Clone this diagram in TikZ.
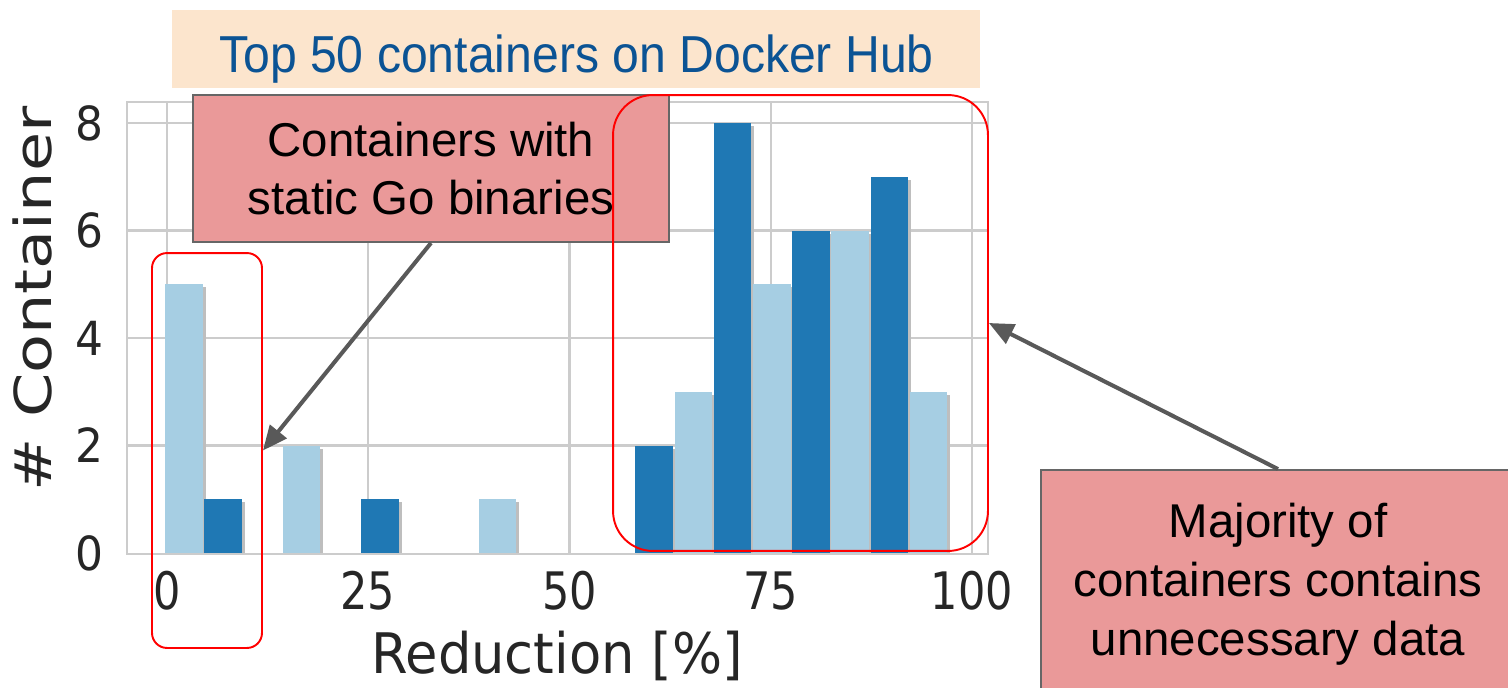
\documentclass[tikz,border=0pt]{standalone}
\usepackage{fontspec}
\setmainfont{Liberation Sans}
\newfontfamily\plotfont{DejaVu Sans}
\usepackage{graphicx}
\usetikzlibrary{arrows.meta,positioning}
\definecolor{lightbar}{HTML}{A6CEE3}
\definecolor{darkbar}{HTML}{1F78B4}
\definecolor{barshadow}{HTML}{BEBEBE}
\definecolor{gridgray}{HTML}{CCCCCC}
\definecolor{titlebg}{HTML}{FCE5CD}
\definecolor{titleblue}{HTML}{0B5394}
\definecolor{notefill}{HTML}{EA9999}
\definecolor{noteborder}{HTML}{666666}
\definecolor{arrowgray}{HTML}{595959}
\definecolor{ticktext}{HTML}{262626}

\begin{document}
\begin{tikzpicture}[x=0.02cm,y=-0.02cm,
      gridline/.style={draw=gridgray,line width=1.4pt},
      redframe/.style={draw=red,line width=1.1pt,rounded corners=#1,inner sep=0pt},
      note/.style={fill=notefill,draw=noteborder,line width=1.1pt,align=center,inner sep=0pt,
        font=\fontsize{27}{33.5}\selectfont},
      pointer/.style={draw=arrowgray,line width=2.3pt,-{Triangle[length=14pt,width=12pt]}},
      ytick/.style={anchor=east,text=ticktext,font=\plotfont\fontsize{25}{30}\selectfont},
      xtick/.style={text=ticktext,font=\plotfont\fontsize{24.5}{30}\selectfont},
      axislabel/.style={text=ticktext,font=\plotfont\fontsize{29}{35}\selectfont}]
    \useasboundingbox (0,0) rectangle (1508,687);
    \clip (0,0) rectangle (1508,687);
    % grid and axes frame
    \foreach \gx in {167,368,569.5,771,972}
      \draw[gridline] (\gx,102) -- (\gx,554);
    \foreach \gy in {445.5,338,230.5,123}
      \draw[gridline] (127,\gy) -- (988,\gy);
    \draw[gridline] (127,102) rectangle (988,554);
    % histogram bars
    \foreach \k/\h/\c in {0/5/lightbar,1/1/darkbar,3/2/lightbar,5/1/darkbar,8/1/lightbar,
        12/2/darkbar,13/3/lightbar,14/8/darkbar,15/5/lightbar,16/6/darkbar,17/6/lightbar,
        18/7/darkbar,19/3/lightbar}{
      \fill[barshadow] ({168+39.2*\k},553) rectangle ++(37.5,{-53.75*\h+3});
      \fill[\c] ({165+39.2*\k},553) rectangle ++(37.5,{-53.75*\h});
    }
    % ticks and axis labels
    \foreach \v/\yy in {0/553,2/445.5,4/338,6/230.5,8/123}
      \node[ytick] (yt-\v) at (110,\yy) {\scalebox{1}[1.07]{\v}};
    \foreach \v/\xx in {0/167,25/368,50/569.5,75/771,100/972}
      \node[xtick] (xt-\v) at (\xx,591) {\scalebox{1}[1.2]{\v}};
    \node[axislabel,rotate=90] (ylab) at (33,299) {\scalebox{1.25}[1]{\# Container}};
    \node[axislabel,font=\plotfont\fontsize{30}{36}\selectfont] (xlab) at (557,656) {\scalebox{1}[1.06]{Reduction [\%]}};
    % title
    \node[fill=titlebg,minimum width=16.16cm,minimum height=1.56cm,inner sep=0pt] (titlebox) at (576,49) {};
    \node[text=titleblue,font=\fontsize{27.4}{33}\selectfont] (title) at (576.5,59) {\scalebox{1}[1.08]{Top 50 containers on Docker Hub}};
    % annotations
    \node[note,minimum width=9.52cm,minimum height=2.94cm] (gonote) at (431,168.5) {Containers with\\static Go binaries};
    \node[redframe=0.3cm,minimum width=2.2cm,minimum height=7.9cm] (goframe) at (207,450.5) {};
    \node[redframe=0.8cm,minimum width=7.5cm,minimum height=9.12cm] (bulkframe) at (800.5,323) {};
    \draw[pointer] (gonote.south) -- (goframe.east);
    \node[note,minimum width=9.48cm,minimum height=4.56cm] (bulknote) at (1278,584) {Majority of\\containers contains\\unnecessary data};
    \draw[pointer] (bulknote.north) -- (bulkframe.east);
\end{tikzpicture}
\end{document}
